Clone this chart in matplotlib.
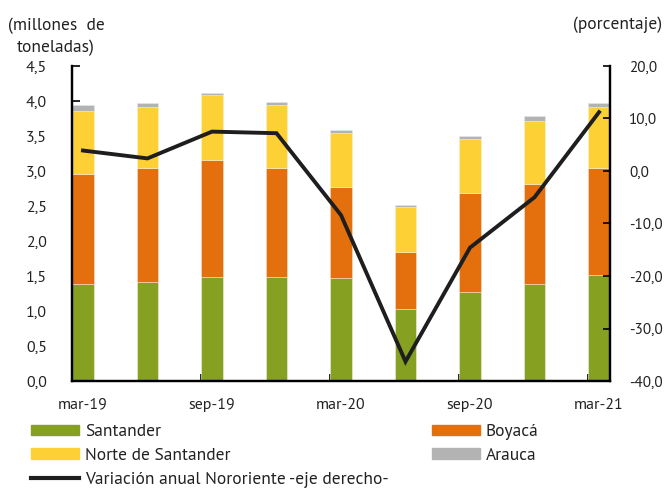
import matplotlib
matplotlib.use("Agg")
import matplotlib.pyplot as plt
from matplotlib.patches import Patch
from matplotlib.lines import Line2D
import numpy as np

plt.rcParams['font.family'] = ['PT Sans', 'DejaVu Sans']

quarters = ['mar-19', 'jun-19', 'sep-19', 'dec-19', 'mar-20', 'jun-20', 'sep-20', 'dec-20', 'mar-21']
tick_labels = ['mar-19', 'sep-19', 'mar-20', 'sep-20', 'mar-21']
santander = [1.38, 1.41, 1.49, 1.49, 1.47, 1.03, 1.27, 1.39, 1.51]
boyaca = [1.58, 1.63, 1.66, 1.55, 1.30, 0.81, 1.42, 1.43, 1.53]
norte = [0.90, 0.88, 0.93, 0.90, 0.77, 0.64, 0.76, 0.90, 0.87]
arauca = [0.08, 0.05, 0.04, 0.05, 0.05, 0.04, 0.05, 0.06, 0.06]
variacion = [3.9, 2.4, 7.5, 7.2, -8.4, -36.3, -14.6, -5.0, 11.2]

c_green = '#86A022'
c_orange = '#E3700C'
c_yellow = '#FDD035'
c_gray = '#B3B3B3'
c_line = '#1E1E1E'
c_text = '#222222'

fig = plt.figure(figsize=(6.69, 4.94), dpi=100)
ax = fig.add_axes([72/669, 113/494, (610-72)/669, (381-66)/494])
ax2 = ax.twinx()

x = np.arange(len(quarters))
w = 0.34
s = np.array(santander); b = np.array(boyaca); n = np.array(norte); a = np.array(arauca)
ax.bar(x, s, w, color=c_green, edgecolor='#f0f0e0', linewidth=0.4, zorder=2)
ax.bar(x, b, w, bottom=s, color=c_orange, edgecolor='#f0e0d0', linewidth=0.4, zorder=2)
ax.bar(x, n, w, bottom=s+b, color=c_yellow, edgecolor='#fff0d0', linewidth=0.4, zorder=2)
ax.bar(x, a, w, bottom=s+b+n, color=c_gray, edgecolor='#e8e8e8', linewidth=0.4, zorder=2)

ax2.plot(x, variacion, color=c_line, linewidth=2.8, zorder=5, solid_joinstyle='miter')

ax.set_xlim(-0.17, 8.17)
ax.set_ylim(0, 4.5)
ax2.set_ylim(-40, 20)

fs_tick = 11.5
fs = 12.5
ax.set_yticks(np.arange(0, 4.51, 0.5))
ax.set_yticklabels([f'{v:.1f}'.replace('.', ',') for v in np.arange(0, 4.51, 0.5)], fontsize=fs_tick, color=c_text)
ax2.set_yticks(np.arange(-40, 21, 10))
ax2.set_yticklabels([f'{v:.1f}'.replace('.', ',') for v in np.arange(-40, 21, 10)], fontsize=11, color=c_text)

ax.set_xticks([0, 2, 4, 6, 8])
ax.set_xticklabels(tick_labels, fontsize=fs_tick, color=c_text)
ax.set_xticks([-0.17, 1.83, 3.83, 5.83, 7.83], minor=True)
ax.tick_params(axis='x', which='major', length=0, pad=12)
ax.tick_params(axis='x', which='minor', direction='in', length=5, width=1.2)
ax.tick_params(axis='y', direction='in', length=6, width=1.2, pad=18)
ax2.tick_params(axis='y', direction='in', length=5, width=1.2, pad=14)

for axx in (ax, ax2):
    for sp in axx.spines.values():
        sp.set_linewidth(1.6)
        sp.set_color('black')
    axx.spines['top'].set_visible(False)

fig.text(56/669, 1-37/494, '(millones  de\ntoneladas)', ha='center', va='center', fontsize=fs,
         linespacing=1.45, color=c_text)
fig.text(618/669, 1-25/494, '(porcentaje)', ha='center', va='center', fontsize=fs, color=c_text)

h1 = [Patch(color=c_green), Patch(color=c_yellow), Line2D([], [], color=c_line, linewidth=3)]
l1 = ['Santander', 'Norte de Santander', 'Variación anual Nororiente -eje derecho-']
h2 = [Patch(color=c_orange), Patch(color=c_gray)]
l2 = ['Boyacá', 'Arauca']
kw = dict(frameon=False, fontsize=fs, handlelength=2.75, handleheight=0.57, labelspacing=0.45,
          handletextpad=0.35, borderpad=0, borderaxespad=0, loc='upper left', labelcolor=c_text)
fig.legend(h1, l1, bbox_to_anchor=(31/669, 1-424/494), **kw)
fig.legend(h2, l2, bbox_to_anchor=(432/669, 1-424/494), **kw)

fig.savefig('out.png', dpi=100)
